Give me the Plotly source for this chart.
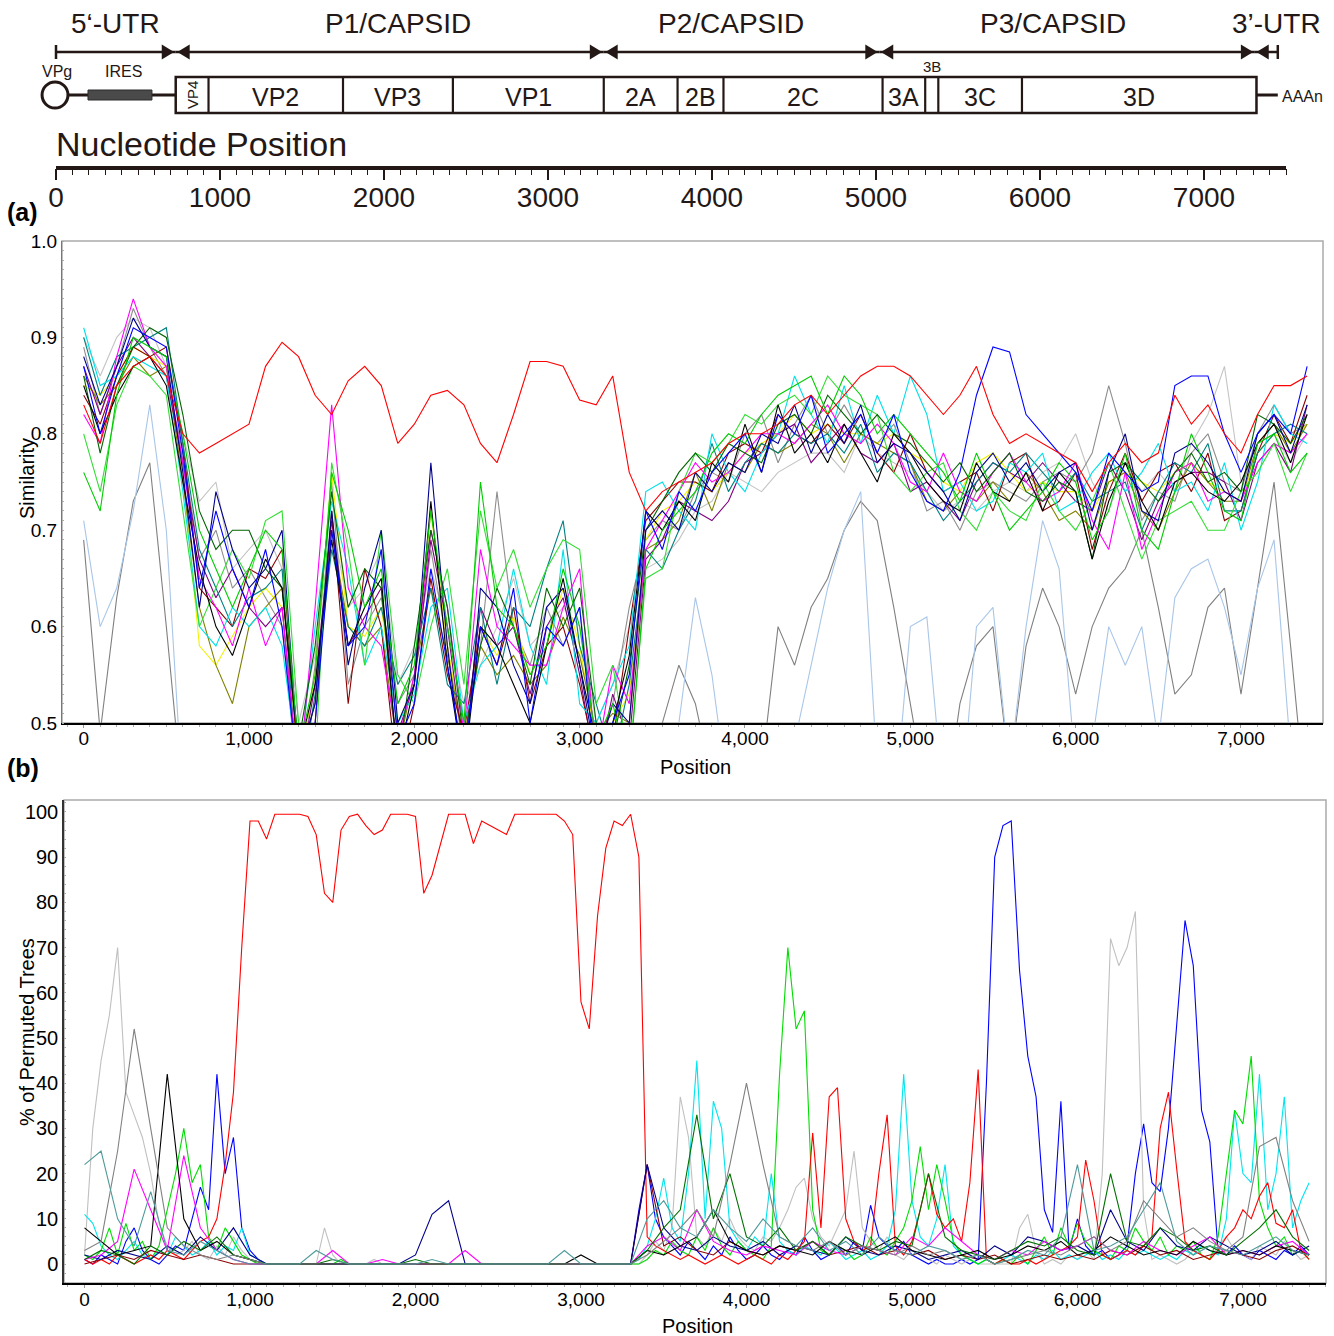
import plotly.graph_objects as go

# ======================= DATA =======================
# genome map
REGIONS = ["5\u2018-UTR", "P1/CAPSID", "P2/CAPSID", "P3/CAPSID", "3\u2019-UTR"]
REGION_BOUNDS = [0, 730, 3340, 5020, 7310, 7450]
REGION_LABEL_X = [360, 2085, 4115, 6080, 7445]
GENES = ["VP4", "VP2", "VP3", "VP1", "2A", "2B", "2C", "3A", "3B", "3C", "3D"]
GENE_BOUNDS = [730, 930, 1750, 2420, 3340, 3790, 4070, 5040, 5300, 5380, 5890, 7320]
IRES_RANGE = [195, 585]
GENOME_LEN = 7500
NT_TICKS = [0, 1000, 2000, 3000, 4000, 5000, 6000, 7000]
NT_MINOR = [v for v in range(0, GENOME_LEN + 1, 100) if v % 1000]

# panel (a): similarity plot, windows every 100 nt
POS_A = list(range(0, 7401, 100))
A_TICKS = [0, 1000, 2000, 3000, 4000, 5000, 6000, 7000]
A_YTICKS = [0.5, 0.6, 0.7, 0.8, 0.9, 1.0]

A_RED = [0.83, 0.79, 0.85, 0.87, 0.88, 0.86, 0.80, 0.78, 0.79, 0.80,
         0.81, 0.87, 0.895, 0.88, 0.84, 0.82, 0.855, 0.87, 0.85, 0.79,
         0.81, 0.84, 0.845, 0.83, 0.79, 0.77, 0.82, 0.875, 0.875, 0.87,
         0.835, 0.83, 0.86, 0.76, 0.72, 0.74, 0.75, 0.76, 0.77, 0.79,
         0.80, 0.80, 0.81, 0.83, 0.84, 0.82, 0.84, 0.86, 0.87, 0.87,
         0.86, 0.84, 0.82, 0.84, 0.87, 0.82, 0.79, 0.80, 0.79, 0.78,
         0.77, 0.74, 0.77, 0.79, 0.77, 0.78, 0.84, 0.81, 0.83, 0.80,
         0.78, 0.82, 0.85, 0.85, 0.86]
A_GREY = [0.69, 0.49, 0.63, 0.73, 0.77, 0.60, 0.42, 0.40, 0.40, 0.40,
          0.40, 0.40, 0.40, 0.40, 0.40, 0.40, 0.40, 0.40, 0.40, 0.40,
          0.40, 0.40, 0.40, 0.40, 0.40, 0.40, 0.40, 0.40, 0.40, 0.40,
          0.40, 0.40, 0.40, 0.40, 0.40, 0.50, 0.56, 0.52, 0.44, 0.40,
          0.40, 0.45, 0.60, 0.56, 0.62, 0.65, 0.70, 0.73, 0.71, 0.62,
          0.52, 0.42, 0.40, 0.52, 0.58, 0.60, 0.45, 0.58, 0.64, 0.60,
          0.53, 0.60, 0.64, 0.66, 0.70, 0.62, 0.53, 0.55, 0.62, 0.64,
          0.53, 0.64, 0.75, 0.58, 0.40]
A_LBLUE = [0.71, 0.60, 0.64, 0.72, 0.83, 0.70, 0.42, 0.40, 0.40, 0.40,
           0.40, 0.40, 0.40, 0.40, 0.40, 0.40, 0.40, 0.40, 0.40, 0.40,
           0.40, 0.40, 0.40, 0.40, 0.40, 0.40, 0.40, 0.40, 0.40, 0.40,
           0.40, 0.40, 0.40, 0.40, 0.40, 0.40, 0.50, 0.63, 0.55, 0.42,
           0.40, 0.40, 0.40, 0.48, 0.56, 0.64, 0.70, 0.74, 0.45, 0.40,
           0.60, 0.61, 0.42, 0.40, 0.60, 0.62, 0.45, 0.60, 0.71, 0.66,
           0.45, 0.48, 0.60, 0.56, 0.60, 0.48, 0.63, 0.66, 0.67, 0.62,
           0.55, 0.64, 0.69, 0.47, 0.40]
A_GREEN = [0.76, 0.72, 0.84, 0.90, 0.89, 0.88, 0.80, 0.70, 0.66, 0.62,
           0.66, 0.70, 0.68, 0.47, 0.55, 0.76, 0.70, 0.62, 0.66, 0.52,
           0.56, 0.72, 0.60, 0.50, 0.75, 0.62, 0.60, 0.55, 0.58, 0.66,
           0.60, 0.48, 0.52, 0.45, 0.66, 0.70, 0.72, 0.74, 0.78, 0.80,
           0.79, 0.82, 0.84, 0.85, 0.86, 0.82, 0.86, 0.84, 0.80, 0.82,
           0.80, 0.78, 0.76, 0.73, 0.78, 0.74, 0.70, 0.72, 0.74, 0.77,
           0.75, 0.69, 0.72, 0.78, 0.70, 0.68, 0.74, 0.80, 0.76, 0.72,
           0.71, 0.79, 0.80, 0.76, 0.78]
A_BLUE = [0.87, 0.80, 0.86, 0.91, 0.90, 0.89, 0.78, 0.64, 0.72, 0.66,
          0.62, 0.68, 0.60, 0.44, 0.50, 0.70, 0.58, 0.60, 0.68, 0.48,
          0.52, 0.66, 0.56, 0.46, 0.60, 0.56, 0.64, 0.50, 0.60, 0.58,
          0.62, 0.44, 0.50, 0.55, 0.72, 0.68, 0.74, 0.72, 0.76, 0.78,
          0.80, 0.76, 0.82, 0.80, 0.84, 0.78, 0.80, 0.82, 0.78, 0.82,
          0.76, 0.73, 0.72, 0.76, 0.84, 0.89, 0.885, 0.82, 0.80, 0.78,
          0.76, 0.72, 0.78, 0.76, 0.74, 0.75, 0.85, 0.86, 0.86, 0.80,
          0.76, 0.80, 0.82, 0.80, 0.87]
A_NAVY = [0.88, 0.83, 0.87, 0.92, 0.89, 0.88, 0.76, 0.62, 0.74, 0.68,
          0.64, 0.66, 0.70, 0.46, 0.52, 0.72, 0.56, 0.64, 0.70, 0.50,
          0.54, 0.77, 0.58, 0.44, 0.64, 0.62, 0.56, 0.52, 0.62, 0.64,
          0.56, 0.46, 0.52, 0.50, 0.70, 0.72, 0.70, 0.76, 0.74, 0.77,
          0.76, 0.80, 0.79, 0.83, 0.78, 0.82, 0.79, 0.83, 0.77, 0.79,
          0.78, 0.76, 0.74, 0.71, 0.76, 0.78, 0.75, 0.77, 0.74, 0.76,
          0.77, 0.70, 0.76, 0.80, 0.72, 0.71, 0.78, 0.79, 0.77, 0.74,
          0.73, 0.80, 0.82, 0.78, 0.83]
A_DKGREEN = [0.86, 0.78, 0.85, 0.89, 0.91, 0.90, 0.82, 0.72, 0.68, 0.70,
             0.70, 0.66, 0.64, 0.48, 0.58, 0.74, 0.62, 0.66, 0.64, 0.46,
             0.58, 0.70, 0.62, 0.48, 0.58, 0.64, 0.60, 0.54, 0.64, 0.60,
             0.64, 0.50, 0.48, 0.56, 0.70, 0.73, 0.76, 0.78, 0.76, 0.79,
             0.78, 0.77, 0.81, 0.82, 0.80, 0.84, 0.82, 0.80, 0.82, 0.80,
             0.79, 0.77, 0.75, 0.77, 0.74, 0.76, 0.78, 0.74, 0.73, 0.75,
             0.74, 0.67, 0.76, 0.77, 0.75, 0.73, 0.76, 0.78, 0.75, 0.76,
             0.74, 0.82, 0.81, 0.79, 0.82]
A_TEAL = [0.90, 0.84, 0.88, 0.89, 0.90, 0.91, 0.79, 0.68, 0.64, 0.60,
          0.63, 0.64, 0.66, 0.42, 0.53, 0.68, 0.60, 0.58, 0.62, 0.54,
          0.57, 0.64, 0.54, 0.52, 0.62, 0.54, 0.62, 0.60, 0.66, 0.71,
          0.58, 0.52, 0.46, 0.54, 0.68, 0.66, 0.70, 0.73, 0.79, 0.74,
          0.77, 0.79, 0.78, 0.80, 0.79, 0.80, 0.78, 0.81, 0.76, 0.78,
          0.77, 0.74, 0.71, 0.73, 0.75, 0.77, 0.76, 0.78, 0.76, 0.74,
          0.76, 0.73, 0.74, 0.75, 0.70, 0.74, 0.77, 0.76, 0.79, 0.72,
          0.72, 0.78, 0.80, 0.81, 0.80]
A_CYAN = [0.91, 0.85, 0.86, 0.88, 0.87, 0.86, 0.74, 0.60, 0.58, 0.62,
          0.60, 0.62, 0.58, 0.45, 0.60, 0.73, 0.66, 0.56, 0.60, 0.50,
          0.53, 0.62, 0.64, 0.50, 0.56, 0.58, 0.66, 0.58, 0.54, 0.68,
          0.52, 0.50, 0.54, 0.58, 0.74, 0.75, 0.72, 0.70, 0.80, 0.76,
          0.74, 0.78, 0.80, 0.86, 0.82, 0.79, 0.85, 0.79, 0.84, 0.80,
          0.86, 0.82, 0.74, 0.75, 0.72, 0.73, 0.77, 0.76, 0.78, 0.72,
          0.73, 0.76, 0.78, 0.74, 0.76, 0.79, 0.74, 0.75, 0.72, 0.77,
          0.70, 0.75, 0.83, 0.80, 0.79]
A_MAGENTA = [0.82, 0.79, 0.88, 0.94, 0.89, 0.87, 0.77, 0.65, 0.62, 0.58,
             0.64, 0.58, 0.62, 0.44, 0.62, 0.83, 0.64, 0.60, 0.58, 0.48,
             0.55, 0.70, 0.62, 0.49, 0.68, 0.60, 0.58, 0.56, 0.56, 0.62,
             0.66, 0.46, 0.56, 0.52, 0.68, 0.71, 0.74, 0.77, 0.75, 0.76,
             0.78, 0.80, 0.80, 0.79, 0.81, 0.83, 0.80, 0.79, 0.81, 0.79,
             0.75, 0.74, 0.78, 0.74, 0.73, 0.76, 0.78, 0.75, 0.73, 0.74,
             0.77, 0.71, 0.68, 0.76, 0.68, 0.72, 0.76, 0.77, 0.73, 0.74,
             0.73, 0.77, 0.79, 0.78, 0.80]
A_BLACK = [0.85, 0.80, 0.84, 0.87, 0.88, 0.85, 0.75, 0.66, 0.60, 0.57,
           0.62, 0.67, 0.64, 0.47, 0.54, 0.69, 0.58, 0.62, 0.65, 0.46,
           0.54, 0.73, 0.56, 0.45, 0.60, 0.58, 0.54, 0.50, 0.58, 0.65,
           0.56, 0.48, 0.50, 0.57, 0.72, 0.70, 0.73, 0.71, 0.77, 0.75,
           0.81, 0.76, 0.83, 0.78, 0.80, 0.77, 0.81, 0.78, 0.75, 0.80,
           0.78, 0.75, 0.73, 0.72, 0.77, 0.74, 0.73, 0.76, 0.72, 0.76,
           0.74, 0.67, 0.73, 0.77, 0.73, 0.70, 0.75, 0.76, 0.74, 0.73,
           0.75, 0.79, 0.81, 0.77, 0.82]
A_LGRAY = [0.90, 0.86, 0.90, 0.92, 0.91, 0.87, 0.80, 0.73, 0.75, 0.66,
           0.68, 0.70, 0.66, 0.50, 0.57, 0.71, 0.62, 0.64, 0.68, 0.54,
           0.58, 0.66, 0.60, 0.52, 0.56, 0.60, 0.65, 0.58, 0.60, 0.62,
           0.60, 0.50, 0.54, 0.60, 0.66, 0.67, 0.69, 0.72, 0.73, 0.76,
           0.75, 0.74, 0.76, 0.77, 0.78, 0.78, 0.76, 0.80, 0.78, 0.77,
           0.76, 0.74, 0.72, 0.73, 0.72, 0.74, 0.75, 0.74, 0.76, 0.77,
           0.80, 0.75, 0.72, 0.77, 0.74, 0.76, 0.74, 0.79, 0.82, 0.87,
           0.75, 0.78, 0.80, 0.77, 0.80]
A_DGRAY = [0.89, 0.82, 0.87, 0.93, 0.89, 0.86, 0.78, 0.67, 0.70, 0.64,
           0.66, 0.63, 0.60, 0.43, 0.56, 0.75, 0.54, 0.60, 0.63, 0.52,
           0.55, 0.68, 0.58, 0.47, 0.58, 0.74, 0.60, 0.56, 0.62, 0.58,
           0.62, 0.47, 0.52, 0.62, 0.69, 0.71, 0.70, 0.74, 0.76, 0.75,
           0.80, 0.82, 0.77, 0.81, 0.84, 0.80, 0.83, 0.80, 0.79, 0.81,
           0.77, 0.72, 0.73, 0.70, 0.74, 0.75, 0.74, 0.73, 0.75, 0.76,
           0.75, 0.78, 0.85, 0.79, 0.71, 0.74, 0.73, 0.78, 0.80, 0.75,
           0.74, 0.80, 0.83, 0.80, 0.81]
A_MAROON = [0.84, 0.81, 0.86, 0.89, 0.88, 0.89, 0.79, 0.64, 0.62, 0.60,
            0.66, 0.65, 0.68, 0.45, 0.50, 0.72, 0.52, 0.66, 0.60, 0.44,
            0.52, 0.65, 0.55, 0.49, 0.60, 0.56, 0.62, 0.52, 0.58, 0.60,
            0.54, 0.46, 0.48, 0.60, 0.71, 0.73, 0.75, 0.75, 0.74, 0.78,
            0.79, 0.78, 0.82, 0.80, 0.79, 0.81, 0.79, 0.82, 0.78, 0.76,
            0.80, 0.76, 0.74, 0.75, 0.76, 0.72, 0.77, 0.78, 0.72, 0.73,
            0.76, 0.68, 0.74, 0.78, 0.73, 0.76, 0.77, 0.74, 0.78, 0.71,
            0.72, 0.78, 0.82, 0.79, 0.84]
A_OLIVE = [0.86, 0.83, 0.85, 0.88, 0.86, 0.87, 0.75, 0.62, 0.56, 0.52,
           0.60, 0.62, 0.64, 0.46, 0.52, 0.70, 0.60, 0.58, 0.60, 0.47,
           0.55, 0.64, 0.57, 0.48, 0.58, 0.55, 0.57, 0.54, 0.56, 0.61,
           0.57, 0.49, 0.51, 0.50, 0.68, 0.69, 0.71, 0.76, 0.72, 0.77,
           0.76, 0.79, 0.78, 0.79, 0.81, 0.80, 0.77, 0.80, 0.79, 0.78,
           0.77, 0.73, 0.72, 0.74, 0.73, 0.75, 0.73, 0.76, 0.74, 0.71,
           0.72, 0.70, 0.75, 0.76, 0.72, 0.70, 0.74, 0.77, 0.75, 0.73,
           0.73, 0.79, 0.81, 0.78, 0.81]
A_PURPLE = [0.87, 0.82, 0.87, 0.90, 0.88, 0.86, 0.77, 0.67, 0.63, 0.66,
            0.62, 0.60, 0.62, 0.44, 0.54, 0.71, 0.58, 0.61, 0.64, 0.49,
            0.54, 0.69, 0.60, 0.47, 0.62, 0.58, 0.60, 0.53, 0.60, 0.63,
            0.55, 0.45, 0.53, 0.48, 0.67, 0.69, 0.73, 0.72, 0.71, 0.73,
            0.77, 0.78, 0.80, 0.81, 0.77, 0.79, 0.81, 0.78, 0.77, 0.79,
            0.74, 0.75, 0.73, 0.71, 0.75, 0.77, 0.76, 0.75, 0.77, 0.75,
            0.73, 0.72, 0.77, 0.74, 0.69, 0.73, 0.75, 0.76, 0.76, 0.75,
            0.71, 0.77, 0.79, 0.76, 0.83]
A_LIME = [0.80, 0.74, 0.83, 0.87, 0.86, 0.84, 0.72, 0.60, 0.64, 0.68,
          0.65, 0.71, 0.72, 0.50, 0.46, 0.77, 0.68, 0.56, 0.70, 0.55,
          0.52, 0.60, 0.66, 0.54, 0.72, 0.64, 0.68, 0.62, 0.66, 0.69,
          0.68, 0.52, 0.56, 0.46, 0.65, 0.66, 0.74, 0.78, 0.77, 0.79,
          0.82, 0.81, 0.83, 0.84, 0.82, 0.86, 0.84, 0.83, 0.82, 0.76,
          0.74, 0.76, 0.77, 0.72, 0.70, 0.74, 0.72, 0.71, 0.75, 0.72,
          0.70, 0.73, 0.77, 0.72, 0.67, 0.71, 0.72, 0.73, 0.70, 0.70,
          0.74, 0.76, 0.79, 0.74, 0.78]
A_YELLOW = [0.85, 0.84, 0.86, 0.89, 0.88, 0.87, 0.76, 0.58, 0.56, 0.59,
            0.62, 0.64, 0.62, 0.45, 0.55, 0.76, 0.60, 0.59, 0.62, 0.50,
            0.54, 0.72, 0.58, 0.48, 0.60, 0.57, 0.61, 0.55, 0.58, 0.64,
            0.58, 0.48, 0.50, 0.53, 0.69, 0.72, 0.73, 0.75, 0.74, 0.76,
            0.78, 0.79, 0.80, 0.82, 0.80, 0.81, 0.80, 0.80, 0.79, 0.80,
            0.78, 0.77, 0.75, 0.74, 0.77, 0.78, 0.76, 0.74, 0.75, 0.74,
            0.74, 0.72, 0.75, 0.76, 0.75, 0.74, 0.76, 0.77, 0.75, 0.74,
            0.73, 0.78, 0.80, 0.79, 0.81]

# panel (b): bootscan, % of permuted trees
POS_B = list(range(0, 7401, 50))
B_TICKS = [0, 1000, 2000, 3000, 4000, 5000, 6000, 7000]
B_YTICKS = [0, 10, 20, 30, 40, 50, 60, 70, 80, 90, 100]

B_RED = [1, 0, 1, 0, 2, 1, 0, 1, 2, 1,
         3, 2, 1, 3, 5, 6, 10, 22, 38, 70,
         98, 98, 94, 99.5, 99.5, 99.5, 99.5, 99, 95, 82,
         80, 96, 99, 99.5, 97, 95, 96, 99.5, 99.5, 99.5,
         99, 82, 86, 93, 99.5, 99.5, 99.5, 93, 98, 97,
         96, 95, 99.5, 99.5, 99.5, 99.5, 99.5, 99.5, 98, 95,
         58, 52, 77, 92, 98, 97, 99.5, 90, 6, 4,
         3, 2, 1, 2, 1, 0, 1, 2, 1, 0,
         1, 2, 1, 0, 2, 1, 3, 5, 29, 8,
         37, 39, 10, 5, 3, 4, 20, 33, 4, 2,
         5, 12, 20, 11, 8, 10, 5, 18, 43, 1,
         0, 1, 0, 0, 1, 0, 1, 2, 3, 4,
         6, 23, 14, 2, 1, 2, 3, 2, 4, 6,
         30, 38, 21, 5, 3, 2, 1, 3, 6, 8,
         12, 10, 15, 18, 9, 8, 12, 3, 1]
B_BLUE = [1, 0, 2, 1, 0, 5, 8, 3, 1, 0,
          2, 4, 3, 10, 17, 12, 42, 20, 28, 8,
          3, 1, 0, 0, 0, 0, 0, 0, 0, 0,
          0, 0, 0, 0, 0, 0, 0, 0, 0, 0,
          0, 0, 0, 0, 0, 0, 0, 0, 0, 0,
          0, 0, 0, 0, 0, 0, 0, 0, 0, 0,
          0, 0, 0, 0, 0, 0, 0, 12, 22, 10,
          6, 4, 2, 5, 3, 1, 4, 2, 6, 3,
          1, 2, 4, 2, 1, 3, 2, 6, 3, 1,
          2, 4, 2, 5, 3, 13, 6, 4, 3, 5,
          2, 1, 0, 1, 0, 0, 1, 0, 1, 40,
          90, 97, 98, 65, 46, 37, 12, 7, 36, 3,
          10, 4, 2, 3, 1, 2, 4, 20, 31, 18,
          16, 30, 52, 76, 66, 34, 27, 3, 2, 4,
          2, 1, 3, 2, 1, 3, 2, 4, 2]
B_LGRAY = [2, 30, 45, 55, 70, 38, 33, 28, 20, 9,
           4, 2, 3, 5, 2, 1, 4, 2, 6, 3,
           1, 0, 0, 0, 0, 0, 0, 0, 0, 8,
           2, 0, 0, 0, 0, 1, 0, 0, 0, 0,
           0, 0, 0, 0, 0, 0, 0, 0, 0, 0,
           0, 0, 0, 0, 0, 0, 0, 0, 0, 0,
           0, 0, 0, 0, 0, 0, 0, 0, 2, 5,
           3, 8, 37, 28, 6, 4, 8, 5, 10, 6,
           4, 3, 6, 5, 8, 12, 17, 19, 10, 6,
           4, 8, 12, 25, 8, 5, 3, 6, 2, 1,
           3, 2, 1, 0, 2, 1, 0, 1, 0, 0,
           0, 0, 0, 8, 11, 3, 0, 1, 0, 2,
           1, 3, 1, 20, 72, 66, 70, 78, 12, 1,
           2, 1, 0, 1, 3, 2, 1, 4, 6, 3,
           2, 1, 4, 3, 2, 5, 3, 1, 2]
B_GREEN = [2, 1, 3, 8, 2, 9, 3, 5, 1, 4,
           12, 20, 30, 18, 22, 6, 3, 8, 5, 2,
           1, 0, 0, 0, 0, 0, 0, 0, 0, 0,
           0, 1, 0, 0, 0, 0, 0, 0, 0, 0,
           0, 0, 0, 0, 0, 0, 0, 0, 0, 0,
           0, 0, 0, 0, 0, 0, 0, 0, 0, 0,
           0, 0, 0, 0, 0, 0, 0, 0, 1, 3,
           2, 5, 3, 2, 6, 3, 8, 4, 2, 5,
           3, 2, 1, 4, 42, 70, 52, 56, 12, 3,
           2, 4, 3, 1, 2, 6, 3, 2, 5, 8,
           14, 26, 12, 22, 14, 5, 2, 1, 0, 1,
           0, 1, 0, 2, 0, 3, 6, 2, 8, 4,
           9, 5, 3, 2, 1, 4, 3, 8, 5, 3,
           6, 2, 4, 3, 5, 2, 1, 6, 20, 34,
           31, 46, 14, 8, 4, 6, 2, 3, 1]
B_CYAN = [11, 9, 4, 2, 1, 3, 5, 2, 1, 3,
          2, 6, 4, 2, 3, 5, 2, 4, 3, 8,
          2, 1, 0, 0, 0, 0, 0, 0, 0, 0,
          0, 0, 0, 0, 0, 0, 0, 0, 0, 0,
          0, 0, 0, 0, 0, 0, 0, 0, 0, 0,
          0, 0, 0, 0, 0, 0, 0, 0, 0, 0,
          0, 0, 0, 0, 0, 0, 0, 1, 4, 10,
          19, 8, 5, 20, 45, 10, 36, 30, 8, 5,
          3, 6, 4, 20, 5, 3, 2, 4, 3, 2,
          5, 3, 1, 2, 3, 1, 2, 4, 12, 42,
          14, 6, 4, 10, 22, 4, 2, 1, 0, 1,
          0, 1, 2, 1, 0, 2, 1, 3, 1, 2,
          1, 2, 3, 1, 2, 1, 3, 2, 3, 2,
          1, 2, 1, 3, 2, 4, 3, 2, 10, 34,
          20, 18, 42, 12, 20, 37, 8, 14, 18]
# minor bootscan series, every 100 nt
B_DKGREEN = [1, 3, 2, 0, 4, 2, 5, 3, 6, 2,
             1, 0, 0, 0, 0, 1, 0, 0, 0, 0,
             1, 0, 0, 0, 0, 0, 0, 0, 0, 0,
             0, 0, 0, 0, 3, 8, 12, 33, 10, 20,
             6, 4, 8, 3, 5, 2, 6, 4, 3, 5,
             4, 20, 6, 3, 2, 1, 3, 5, 4, 6,
             3, 2, 20, 5, 4, 8, 6, 3, 4, 2,
             5, 8, 12, 6, 3]
B_TEAL = [22, 25, 10, 4, 16, 3, 2, 5, 3, 1,
          0, 0, 0, 0, 3, 1, 0, 0, 0, 0,
          0, 1, 0, 0, 0, 0, 0, 0, 0, 3,
          0, 0, 0, 0, 10, 14, 8, 6, 12, 8,
          5, 10, 6, 4, 8, 3, 5, 2, 6, 3,
          2, 4, 3, 1, 2, 0, 1, 3, 2, 6,
          22, 3, 4, 6, 12, 18, 5, 2, 4, 3,
          2, 4, 6, 3, 2]
B_GRAY = [3, 5, 25, 52, 30, 8, 4, 2, 1, 2,
          1, 0, 0, 0, 0, 0, 0, 0, 0, 0,
          0, 0, 0, 0, 0, 0, 0, 0, 0, 0,
          0, 0, 0, 0, 2, 5, 8, 12, 6, 22,
          40, 22, 6, 4, 3, 5, 2, 4, 3, 2,
          4, 2, 3, 1, 2, 0, 1, 2, 3, 2,
          4, 6, 3, 5, 14, 10, 6, 8, 5, 3,
          6, 26, 28, 14, 5]
B_BLACK = [8, 5, 2, 3, 4, 42, 10, 3, 5, 2,
           1, 0, 0, 0, 0, 0, 0, 0, 0, 0,
           0, 0, 0, 0, 0, 0, 0, 0, 0, 0,
           2, 0, 0, 0, 3, 2, 4, 6, 12, 5,
           3, 2, 4, 3, 2, 5, 3, 2, 4, 6,
           3, 2, 1, 2, 3, 1, 2, 4, 3, 5,
           2, 3, 6, 4, 2, 3, 2, 5, 3, 2,
           3, 2, 4, 3, 2]
B_MAGENTA = [1, 2, 5, 21, 12, 3, 24, 8, 3, 1,
             0, 0, 0, 0, 0, 3, 0, 0, 1, 0,
             0, 0, 0, 3, 0, 0, 0, 0, 0, 0,
             0, 0, 0, 0, 4, 6, 3, 12, 5, 3,
             2, 4, 3, 2, 5, 3, 2, 4, 3, 2,
             6, 4, 8, 5, 2, 1, 3, 2, 5, 3,
             4, 6, 3, 2, 5, 3, 2, 4, 6, 2,
             3, 2, 4, 5, 2]
B_NAVY = [2, 1, 3, 2, 1, 4, 2, 6, 3, 8,
          2, 0, 0, 0, 0, 0, 0, 0, 0, 0,
          2, 11, 14, 0, 0, 0, 0, 0, 0, 0,
          0, 0, 0, 0, 22, 8, 4, 3, 6, 4,
          3, 5, 2, 4, 3, 2, 6, 3, 2, 4,
          3, 1, 2, 3, 1, 4, 2, 6, 5, 3,
          4, 2, 12, 5, 3, 8, 4, 3, 6, 4,
          2, 3, 5, 2, 4]
B_MAROON = [0, 1, 2, 1, 3, 2, 1, 2, 1, 0,
            0, 0, 0, 0, 0, 0, 0, 0, 0, 0,
            0, 0, 0, 0, 0, 0, 0, 0, 0, 0,
            0, 0, 0, 0, 22, 4, 6, 3, 2, 5,
            3, 2, 4, 3, 5, 2, 3, 4, 2, 3,
            2, 3, 1, 2, 1, 2, 0, 1, 2, 1,
            2, 1, 3, 2, 4, 2, 3, 1, 2, 3,
            2, 1, 3, 4, 2]

# ======================= FIGURE =======================
W, H = 1334, 1336
INK = "#231815"
FONT = "Liberation Sans, Arial, sans-serif"


def py(p):
    return 1 - p / H


def px(p):
    return p / W


def txt(text, x, y, size, xref="paper", color=INK, xanchor="center", angle=0):
    return dict(text=text, xref=xref, yref="paper", x=x, y=y, showarrow=False,
                xanchor=xanchor, yanchor="middle", textangle=angle,
                font=dict(size=size, color=color, family=FONT))


fig = go.Figure()

# ---- panel (a) traces ----
series_a = [
    (A_GREY, "#808080"), (A_LBLUE, "#a9c6e8"),
    (A_LGRAY, "#c4c4c4"), (A_DGRAY, "#8e8e8e"), (A_YELLOW, "#f2f200"),
    (A_OLIVE, "#808000"), (A_PURPLE, "#800080"), (A_MAROON, "#8b0000"),
    (A_TEAL, "#008080"), (A_CYAN, "#00e0e8"), (A_MAGENTA, "#ff00ff"),
    (A_LIME, "#33dd33"), (A_DKGREEN, "#006400"), (A_BLACK, "#000000"),
    (A_NAVY, "#00008b"), (A_GREEN, "#00cc00"), (A_BLUE, "#0000ff"),
    (A_RED, "#ff0000"),
]
for vals, col in series_a:
    fig.add_trace(go.Scatter(x=POS_A, y=vals, mode="lines", xaxis="x", yaxis="y",
                             line=dict(color=col, width=1.1), hoverinfo="skip"))

# ---- panel (b) traces ----
series_b = [
    (POS_B, B_BLUE, "#0000ff"), (POS_B, B_LGRAY, "#c0c0c0"),
    (POS_B, B_CYAN, "#00e5ee"), (POS_B, B_GREEN, "#00dd00"),
    (POS_B, B_RED, "#ff0000"),
    (POS_A, B_MAROON, "#8b0000"), (POS_A, B_NAVY, "#00008b"),
    (POS_A, B_MAGENTA, "#ff00ff"), (POS_A, B_BLACK, "#000000"),
    (POS_A, B_DKGREEN, "#007000"), (POS_A, B_GRAY, "#808080"),
    (POS_A, B_TEAL, "#4f9a9a"),
]
for xs, vals, col in series_b:
    fig.add_trace(go.Scatter(x=xs, y=vals, mode="lines", xaxis="x2", yaxis="y2",
                             line=dict(color=col, width=1.1), hoverinfo="skip"))

# helper subplot for genome map / nucleotide axis
fig.add_trace(go.Scatter(x=[None], y=[None], xaxis="x3", yaxis="y3",
                         mode="lines", hoverinfo="skip"))

shapes = []
annotations = []

# ---- genome map (x in nucleotides on x3, y in paper) ----
Y_ARROW, Y_BOX_T, Y_BOX_B, Y_MID, Y_NTAXIS = 52, 77, 113, 95, 168
AH_LEN, AH_HALF, GAP = 75, 7.5, 10


def head(tip, direction):
    base = tip - direction * AH_LEN
    return dict(type="path", xref="x3", yref="paper",
                path=f"M {base},{py(Y_ARROW - AH_HALF)} L {tip},{py(Y_ARROW)} "
                     f"L {base},{py(Y_ARROW + AH_HALF)} Z",
                fillcolor=INK, line=dict(width=0))


n_reg = len(REGIONS)
for i in range(n_reg):
    a, b = REGION_BOUNDS[i], REGION_BOUNDS[i + 1]
    shapes.append(dict(type="line", xref="x3", yref="paper", x0=a, x1=b,
                       y0=py(Y_ARROW), y1=py(Y_ARROW), line=dict(color=INK, width=2.5)))
    if i == 0:
        shapes.append(dict(type="line", xref="x3", yref="paper", x0=a, x1=a,
                           y0=py(Y_ARROW - 7), y1=py(Y_ARROW + 7), line=dict(color=INK, width=2.5)))
    else:
        shapes.append(head(a + GAP, -1))
    if i == n_reg - 1:
        shapes.append(dict(type="line", xref="x3", yref="paper", x0=b, x1=b,
                           y0=py(Y_ARROW - 7), y1=py(Y_ARROW + 7), line=dict(color=INK, width=2.5)))
    else:
        shapes.append(head(b - GAP, 1))
    annotations.append(txt(REGIONS[i], REGION_LABEL_X[i], py(23), 28, xref="x3"))

# 5' line, VPg, IRES
shapes.append(dict(type="line", xref="x3", yref="paper", x0=70, x1=GENE_BOUNDS[0],
                   y0=py(Y_MID), y1=py(Y_MID), line=dict(color=INK, width=3)))
shapes.append(dict(type="rect", xref="x3", yref="paper", x0=IRES_RANGE[0], x1=IRES_RANGE[1],
                   y0=py(Y_MID + 5), y1=py(Y_MID - 5), fillcolor="#4a4a4a",
                   line=dict(color="#2a2a2a", width=1)))
shapes.append(dict(type="circle", xref="x3", yref="paper", x0=-85, x1=73,
                   y0=py(Y_MID + 13), y1=py(Y_MID - 13), fillcolor="white",
                   line=dict(color=INK, width=3)))
# poly-A tail
shapes.append(dict(type="line", xref="x3", yref="paper", x0=GENE_BOUNDS[-1], x1=7450,
                   y0=py(Y_MID), y1=py(Y_MID), line=dict(color=INK, width=3)))
# polyprotein box
shapes.append(dict(type="rect", xref="x3", yref="paper", x0=GENE_BOUNDS[0], x1=GENE_BOUNDS[-1],
                   y0=py(Y_BOX_B), y1=py(Y_BOX_T), fillcolor="white",
                   line=dict(color=INK, width=2.5)))
for bnd in GENE_BOUNDS[1:-1]:
    shapes.append(dict(type="line", xref="x3", yref="paper", x0=bnd, x1=bnd,
                       y0=py(Y_BOX_B), y1=py(Y_BOX_T), line=dict(color=INK, width=2.2)))
for j, g in enumerate(GENES):
    cx = (GENE_BOUNDS[j] + GENE_BOUNDS[j + 1]) / 2
    if g == "VP4":
        annotations.append(txt(g, cx, py(Y_MID), 15, xref="x3", angle=-90))
    elif g == "3B":
        annotations.append(txt(g, cx, py(66), 15, xref="x3"))
    else:
        annotations.append(txt(g, cx, py(97), 25, xref="x3"))
annotations.append(txt("VPg", 5, py(72), 16, xref="x3"))
annotations.append(txt("IRES", 410, py(72), 16, xref="x3"))
annotations.append(txt("AAAn", 7462, py(96), 16, xref="x3", xanchor="left"))

# nucleotide position axis
annotations.append(txt("Nucleotide Position", px(54), py(144), 34, xanchor="left"))
shapes.append(dict(type="line", xref="x3", yref="paper", x0=0, x1=GENOME_LEN,
                   y0=py(Y_NTAXIS), y1=py(Y_NTAXIS), line=dict(color=INK, width=4)))

# panel frames (light grey)
shapes.append(dict(type="rect", xref="x domain", yref="y domain", x0=0, x1=1, y0=0, y1=1,
                   line=dict(color="#ababab", width=1.5), layer="below"))
shapes.append(dict(type="rect", xref="x2 domain", yref="y2 domain", x0=0, x1=1, y0=0, y1=1,
                   line=dict(color="#ababab", width=1.5), layer="below"))

# panel labels and axis titles
annotations += [
    txt("<b>(a)</b>", px(5), py(212), 25, color="#000", xanchor="left"),
    txt("<b>(b)</b>", px(5), py(768), 25, color="#000", xanchor="left"),
    txt("Similarity", px(27), py(478), 20, color="#000", angle=-90),
    txt("Position", px(695), py(767), 20, color="#000"),
    txt("% of Permuted Trees", px(27), py(1032), 20, color="#000", angle=-90),
    txt("Position", px(697), py(1326), 20, color="#000"),
]

axis_font_a = dict(size=19, color="#000", family=FONT)

fig.update_layout(
    width=W, height=H,
    margin=dict(l=0, r=0, t=0, b=0, pad=0, autoexpand=False),
    paper_bgcolor="white", plot_bgcolor="white", showlegend=False,
    font=dict(family=FONT, color="#000"),
    shapes=shapes, annotations=annotations,
    xaxis=dict(domain=[px(62), px(1323)], range=[-131, 7496], anchor="y",
               tickmode="array", tickvals=A_TICKS, tickformat=",d", tickfont=axis_font_a,
               showline=True, linecolor="#000", linewidth=2, ticks="outside", ticklen=3,
               tickcolor="#999", showgrid=False, zeroline=False, automargin=False,
               ticklabelstandoff=-6,
               minor=dict(tickmode="linear", tick0=0, dtick=100, ticks="outside",
                          ticklen=2, tickcolor="#aaa")),
    yaxis=dict(domain=[py(723), py(241)], range=[0.5, 1.0], anchor="x",
               tickmode="array", tickvals=A_YTICKS, tickformat=".1f", tickfont=axis_font_a,
               showline=True, linecolor="#777", linewidth=1, ticks="", showgrid=False,
               zeroline=False, automargin=False,
               minor=dict(tickmode="linear", tick0=0.5, dtick=0.01, ticks="inside",
                          ticklen=2, tickcolor="#aaa")),
    xaxis2=dict(domain=[px(64), px(1326)], range=[-124, 7502], anchor="y2",
                tickmode="array", tickvals=B_TICKS, tickformat=",d", tickfont=axis_font_a,
                showline=True, linecolor="#000", linewidth=2, ticks="outside", ticklen=3,
                tickcolor="#999", showgrid=False, zeroline=False, automargin=False,
                ticklabelstandoff=-5,
                minor=dict(tickmode="linear", tick0=0, dtick=100, ticks="outside",
                           ticklen=2, tickcolor="#aaa")),
    yaxis2=dict(domain=[py(1283), py(800)], range=[-4.2, 102.65], anchor="x2",
                tickmode="array", tickvals=B_YTICKS,
                tickfont=dict(size=20, color="#000", family=FONT),
                showline=True, linecolor="#333", linewidth=1.5, ticks="", showgrid=False,
                zeroline=False, automargin=False,
                minor=dict(tickmode="linear", tick0=0, dtick=2, ticks="inside",
                           ticklen=2, tickcolor="#aaa")),
    xaxis3=dict(domain=[0, 1], range=[-341.5, 7792.7], anchor="y3",
                tickmode="array", tickvals=NT_TICKS, ticks="outside", ticklen=11,
                tickwidth=1.6, tickcolor=INK, showline=False, showgrid=False, zeroline=False,
                automargin=False, ticklabelstandoff=-7,
                tickfont=dict(size=28, color=INK, family=FONT),
                minor=dict(tickmode="array", tickvals=NT_MINOR, ticks="outside",
                           ticklen=6, tickwidth=1.2, tickcolor=INK)),
    yaxis3=dict(domain=[py(Y_NTAXIS), 1.0], range=[0, 1], anchor="x3", visible=False),
)

fig.write_html("out.html", config={"displayModeBar": False},
               post_script="document.body.style.margin='0';")
